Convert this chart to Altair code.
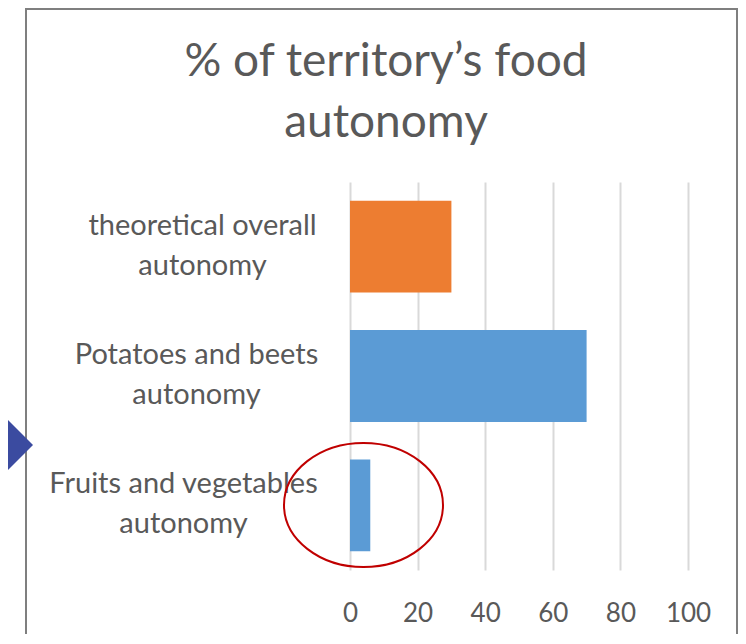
import altair as alt
import pandas as pd

# ---- data ----
categories = [
    "theoretical overall|autonomy",
    "Potatoes and beets|autonomy",
    "Fruits and vegetables|autonomy",
]
values = [30, 70, 6]
bar_colors = ["#ED7D31", "#5B9BD5", "#5B9BD5"]
x_ticks = [0, 20, 40, 60, 80, 100]
title_lines = ["% of territory’s food", "autonomy"]

FONT = "Lato"
GRAY = "#595959"

df = pd.DataFrame({"category": categories, "value": values, "color": bar_colors})

# distance from plot edge to the centre of each (centre-aligned) two-line label
label_pad = {
    "condition": [
        {"test": f"datum.value === '{categories[0]}'", "value": 148},
        {"test": f"datum.value === '{categories[1]}'", "value": 154},
    ],
    "value": 167,
}

bars = alt.Chart(df).mark_bar().encode(
    x=alt.X(
        "value:Q",
        scale=alt.Scale(domain=[0, 100], nice=False),
        axis=alt.Axis(
            values=x_ticks,
            title=None,
            domain=False,
            ticks=False,
            labelFlush=False,
            labelPadding=30,
            labelFontSize=26,
            labelColor=GRAY,
            labelFont=FONT,
            grid=True,
            gridColor="#d9d9d9",
            gridWidth=2,
        ),
    ),
    y=alt.Y(
        "category:N",
        sort=categories,
        scale=alt.Scale(paddingInner=0.29, paddingOuter=0.145),
        axis=alt.Axis(
            title=None,
            domain=False,
            ticks=False,
            grid=False,
            labelExpr="split(datum.label, '|')",
            labelLineHeight=40,
            labelOffset=-21,
            labelAlign="center",
            labelPadding=label_pad,
            labelFontSize=29,
            labelColor=GRAY,
            labelFont=FONT,
            labelLimit=400,
        ),
    ),
    color=alt.Color("color:N", scale=None, legend=None),
)

one = alt.Data(values=[{}])

# Chart frame; plot origin is at page (350,182)
frame = alt.Chart(one).mark_rect(
    fill=None, stroke="#7f7f7f", strokeWidth=2, clip=False
).encode(
    x=alt.value(26 - 350),
    x2=alt.value(737 - 350),
    y=alt.value(9 - 182),
    y2=alt.value(680 - 182),
)

title_df = pd.DataFrame({"line": title_lines, "y": [76 - 182, 137 - 182]})
title = alt.Chart(title_df).mark_text(
    font=FONT, fontSize=46, color=GRAY, align="center", baseline="alphabetic"
).encode(
    x=alt.value(386 - 350),
    y=alt.Y("y:Q", scale=None),
    text="line:N",
)

arrow = alt.Chart(one).mark_point(
    shape="M0,0 L-1,-1 L-1,1 Z",
    size=14400,
    filled=True,
    fill="#3B4BA0",
    opacity=1,
    strokeWidth=0,
).encode(x=alt.value(33 - 350), y=alt.value(445 - 182))

ellipse = alt.Chart(one).mark_point(
    shape="M-1,0 A1,0.78 0 1,0 1,0 A1,0.78 0 1,0 -1,0 Z",
    size=159 * 159,
    filled=False,
    stroke="#C00000",
    strokeWidth=2,
    opacity=1,
).encode(x=alt.value(363.5 - 350), y=alt.value(505 - 182))

chart = (
    alt.layer(frame, bars, title, arrow, ellipse)
    .properties(
        width=338,
        height=388,
        background="white",
        autosize=alt.AutoSizeParams(type="none"),
        padding={"left": 342, "top": 174, "right": 50, "bottom": 64},
    )
    .configure_view(stroke=None)
)

chart.save("out.html", embed_options={"renderer": "svg", "actions": False})
